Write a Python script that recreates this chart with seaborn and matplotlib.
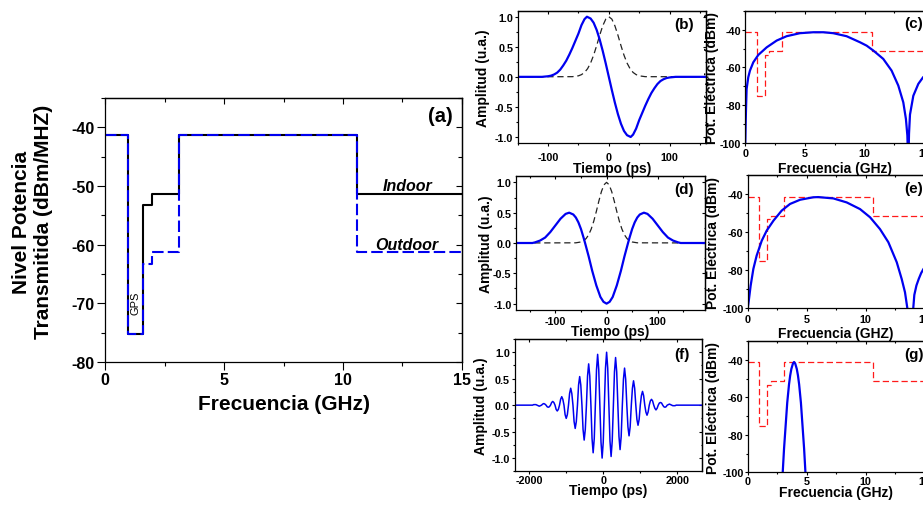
import matplotlib
matplotlib.use("Agg")
import matplotlib.pyplot as plt
import seaborn as sns
from matplotlib.ticker import MultipleLocator, FormatStrFormatter, NullFormatter

# ---------------- data ----------------
# FCC UWB emission masks: step edges (GHz) and levels (dBm/MHz)
mask_freq = [0.0, 0.96, 1.61, 1.99, 3.1, 10.6, 15.0]
indoor_level = [-41.3, -75.3, -53.3, -51.3, -41.3, -51.3, -51.3]
outdoor_level = [-41.3, -75.3, -63.3, -61.3, -41.3, -61.3, -61.3]

# Gaussian reference pulse (ps, a.u.)
gauss_t = [-200, -60, -50, -45, -40, -35, -30, -25, -20, -15, -10, -5, 0,
           5, 10, 15, 20, 25, 30, 35, 40, 45, 50, 60, 210]
gauss_amp = [0, 0.003, 0.017, 0.037, 0.073, 0.135, 0.23, 0.36, 0.52, 0.693, 0.849, 0.96, 1.0,
             0.96, 0.849, 0.693, 0.52, 0.36, 0.23, 0.135, 0.073, 0.037, 0.017, 0.003, 0]

# Gaussian monocycle (ps, a.u.)
mono_t = [-150, -110, -100, -95, -90, -85, -80, -75, -70, -65, -60, -55, -50, -45, -40, -36,
          -30, -25, -20, -15, -10, -5, 0, 5, 10, 15, 20, 25, 30, 36, 40, 45, 50, 55, 60,
          65, 70, 75, 80, 85, 90, 95, 100, 110, 160]
mono_amp = [0, 0, 0.01, 0.02, 0.04, 0.07, 0.12, 0.19, 0.27, 0.37, 0.48, 0.60, 0.72, 0.86, 0.96, 1.0,
            0.97, 0.90, 0.78, 0.62, 0.43, 0.22, 0, -0.22, -0.43, -0.62, -0.78, -0.90, -0.97, -1.0, -0.96,
            -0.86, -0.72, -0.60, -0.48, -0.37, -0.27, -0.19, -0.12, -0.07, -0.04, -0.02, -0.01, 0, 0]

# Gaussian doublet (ps, a.u.)
doub_t = [-185, -145, -140, -130, -120, -110, -100, -90, -80, -73, -65, -60, -55, -50, -45, -42,
          -35, -28, -20, -12, -6, 0, 6, 12, 20, 28, 35, 42, 45, 50, 55, 60, 65, 73, 80, 90,
          100, 110, 120, 130, 140, 145, 205]
doub_amp = [0, 0, 0.01, 0.04, 0.09, 0.18, 0.29, 0.40, 0.48, 0.50, 0.47, 0.42, 0.34, 0.23, 0.09, 0.0,
            -0.22, -0.46, -0.70, -0.89, -0.97, -1.0, -0.97, -0.89, -0.70, -0.46, -0.22, 0.0, 0.09, 0.23,
            0.34, 0.42, 0.47, 0.50, 0.48, 0.40, 0.29, 0.18, 0.09, 0.04, 0.01, 0, 0]

# Modulated Gaussian burst (ps, a.u.)
burst_t = [-2400, -1907, -1876,
           -1846, -1816, -1785, -1755,  -1725, -1695, -1664, -1634,
           -1604, -1574, -1543, -1513,  -1483, -1453, -1422, -1392,
           -1362, -1332, -1301, -1271,  -1241, -1211, -1180, -1150,
           -1120, -1090, -1059, -1029,  -999, -969, -938, -908,
           -878, -848, -817, -787,      -757, -727, -696, -666,
           -636, -606, -575, -545,      -515, -485, -454, -424,
           -394, -364, -333, -303,      -273, -243, -212, -182,
           -152, -122, -91, -61,        -31, -1, 30, 60,
           90, 120, 151, 181,           211, 241, 272, 302,
           332, 362, 393, 423,          453, 483, 514, 544,
           574, 604, 635, 665,          695, 725, 756, 786,
           816, 846, 877, 907,          937, 967, 998, 1028,
           1058, 1088, 1119, 1149,      1179, 1209, 1240, 1270,
           1300, 1330, 1361, 1391,      1421, 1451, 1482, 1512,
           1542, 1572, 1603, 1633,      1663, 1693, 1724, 1754,
           1784, 1814, 1845, 1875,
           1905, 1935, 1966, 2700]
burst_amp = [0, 0, 0.01,
             0.01, 0.01, 0, -0.01,        -0.02, -0.01, 0, 0.02,
             0.03, 0.02, 0, -0.03,        -0.04, -0.03, 0, 0.05,
             0.07, 0.05, 0, -0.08,        -0.11, -0.08, 0, 0.11,
             0.16, 0.11, 0, -0.18,        -0.25, -0.18, 0, 0.22,
             0.32, 0.22, 0, -0.31,        -0.44, -0.31, 0, 0.38,
             0.54, 0.38, 0, -0.46,        -0.66, -0.46, 0, 0.55,
             0.78, 0.55, 0, -0.63,        -0.90, -0.63, 0, 0.67,
             0.96, 0.67, 0, -0.70,        -1.00, -0.70, 0, 0.70,
             1.00, 0.70, 0, -0.68,        -0.97, -0.68, 0, 0.63,
             0.90, 0.63, 0, -0.59,        -0.84, -0.59, 0, 0.49,
             0.70, 0.49, 0, -0.41,        -0.58, -0.41, 0, 0.32,
             0.46, 0.32, 0, -0.27,        -0.38, -0.27, 0, 0.18,
             0.26, 0.18, 0, -0.13,        -0.19, -0.13, 0, 0.08,
             0.11, 0.08, 0, -0.06,        -0.09, -0.06, 0, 0.04,
             0.05, 0.04, 0, -0.03,        -0.04, -0.03, 0, 0.01,
             0.02, 0.01, 0, -0.01,
             -0.01, -0.01, 0, 0]

# Power spectra (GHz, dBm)
mono_spec_f = [0.0, 0.03, 0.06, 0.11, 0.25, 0.39, 0.67, 1.09, 1.79, 2.63, 3.46, 4.58, 5.70, 6.54,
               7.37, 8.49, 9.61, 10.17, 10.73, 11.56, 12.26, 12.82, 13.24, 13.46, 13.58, 13.66,
               13.72, 13.8, 14.08, 14.5, 14.9, 15.0]
mono_spec_db = [-100, -90, -82, -71.4, -65.2, -61.7, -57.3, -53.4, -49.4, -45.8, -43.5, -41.9, -41.4,
                -41.4, -41.9, -43.5, -46.7, -48.5, -51.1, -55.5, -61.7, -69.6, -78.5, -87.3, -96, -112,
                -95, -85, -75, -68.7, -65.2, -64.7]

doub_spec_f = [0.0, 0.11, 0.25, 0.48, 0.76, 1.19, 1.61, 2.18, 2.88, 3.59, 4.44, 5.56, 5.99, 7.26,
               8.39, 9.52, 10.37, 11.21, 11.92, 12.63, 13.05, 13.33, 13.53, 13.78, 14.03, 14.12,
               14.3, 14.5, 14.7, 14.9, 15.0]
doub_spec_db = [-100, -95.1, -88.1, -79.3, -72.3, -64.5, -59.2, -54.0, -48.7, -45.2, -43.0, -41.7,
                -41.6, -42.3, -44.4, -47.9, -52.2, -58.4, -65.3, -75.8, -84.6, -91.6, -100, -125,
                -100, -93, -88, -84.5, -81.5, -79.3, -78.5]

burst_spec_f = [2.9, 2.95, 3.08, 3.35, 3.5, 3.6, 3.7, 3.83, 3.93, 4.03, 4.16, 4.26, 4.36, 4.51,
                4.78, 4.91, 4.96]
burst_spec_db = [-110, -102, -87.4, -62.9, -53.2, -48.4, -44.9, -42.1, -41.2, -42.1, -44.9, -48.4,
                 -53.2, -62.9, -87.4, -102, -110]

# ---------------- style ----------------
sns.set_theme(style="ticks")
plt.rcParams.update({
    "font.family": ["Liberation Sans", "DejaVu Sans"],
    "font.weight": "bold",
    "axes.labelweight": "bold",
    "axes.unicode_minus": False,
    "axes.edgecolor": "black",
    "axes.labelcolor": "black",
    "text.color": "black",
    "xtick.color": "black",
    "ytick.color": "black",
    "xtick.labelcolor": "black",
    "ytick.labelcolor": "black",
    "axes.facecolor": "white",
    "figure.facecolor": "white",
})

BLUE = "#0000F0"
RED = "#FF1A1A"

W, H = 923, 506
fig = plt.figure(figsize=(W / 100, H / 100), dpi=100)


def axes_px(left, right, top, bottom):
    return fig.add_axes([left / W, 1 - bottom / H, (right - left) / W, (bottom - top) / H])


def line(ax, x, y, **kw):
    sns.lineplot(x=x, y=y, ax=ax, estimator=None, sort=False, legend=False, **kw)


def frame(ax, xlim, ylim, xmaj, xmin, ymaj, ymin, tsize, tlen, xpad, ypad, yfmt=None,
          mirror_right=True):
    ax.set_xlim(*xlim)
    ax.set_ylim(*ylim)
    ax.xaxis.set_major_locator(MultipleLocator(xmaj))
    ax.xaxis.set_minor_locator(MultipleLocator(xmin))
    ax.yaxis.set_major_locator(MultipleLocator(ymaj))
    ax.yaxis.set_minor_locator(MultipleLocator(ymin))
    if yfmt:
        ax.yaxis.set_major_formatter(FormatStrFormatter(yfmt))
    ax.tick_params(which="both", direction="out", width=0.8, colors="black",
                   labelcolor="black", labelsize=tsize, top=False, right=False)
    ax.tick_params(which="major", length=tlen)
    ax.tick_params(which="minor", length=tlen * 0.55)
    ax.tick_params(axis="x", which="both", pad=xpad)
    ax.tick_params(axis="y", which="both", pad=ypad)
    for s in ax.spines.values():
        s.set_visible(True)
        s.set_linewidth(0.9)
        s.set_color("black")
    mirrors = []
    top = ax.secondary_xaxis("top")
    mirrors.append((top, top.xaxis, xmaj, xmin))
    if mirror_right:
        right = ax.secondary_yaxis("right")
        mirrors.append((right, right.yaxis, ymaj, ymin))
    for sec, axis, maj, mnr in mirrors:
        axis.set_major_locator(MultipleLocator(maj))
        axis.set_minor_locator(MultipleLocator(mnr))
        axis.set_major_formatter(NullFormatter())
        sec.tick_params(which="both", direction="in", width=0.8, colors="black")
        sec.tick_params(which="major", length=tlen * 0.8)
        sec.tick_params(which="minor", length=tlen * 0.45)
        for s in sec.spines.values():
            s.set_linewidth(0.9)
            s.set_color("black")


def labels(ax, xl, yl, xy, yx, size, ycen=0.5):
    ax.set_xlabel(xl, fontsize=size, fontweight="bold", color="black")
    ax.set_ylabel(yl, fontsize=size, fontweight="bold", color="black")
    ax.xaxis.set_label_coords(0.5, xy)
    ax.yaxis.set_label_coords(yx, ycen)


def tag(x, y, s, size):
    fig.text(x / W, 1 - y / H, s, fontsize=size, fontweight="bold", ha="left", va="center",
             color="black")


# ---------------- (a) emission masks ----------------
ax_a = axes_px(105, 462, 99, 363)
line(ax_a, mask_freq, indoor_level, color="black", lw=1.5, drawstyle="steps-post")
line(ax_a, mask_freq, outdoor_level, color=BLUE, lw=1.5, drawstyle="steps-post",
     linestyle=(0, (5.5, 2)))
frame(ax_a, (0, 15), (-80, -35), 5, 2.5, 10, 5, 11.5, 5.8, 1.5, 1.5)
labels(ax_a, "Frecuencia (GHz)", "Nivel Potencia\nTransmitida (dBm/MHZ)", -0.12, -0.145, 15,
       ycen=0.534)
ax_a.text(1.27, -69.9, "GPS", rotation=90, fontsize=8, fontweight="normal", ha="center", va="center")
ax_a.text(12.7, -50.0, "Indoor", fontsize=11.5, fontweight="bold", fontstyle="italic",
          ha="center", va="center")
ax_a.text(12.7, -60.0, "Outdoor", fontsize=11.5, fontweight="bold", fontstyle="italic",
          ha="center", va="center")
tag(428, 116, "(a)", 14.5)

# ---------------- time-domain pulses ----------------
ax_b = axes_px(517.7, 706, 11.7, 144)
line(ax_b, gauss_t, gauss_amp, color="#222222", lw=0.9, linestyle=(0, (5, 3)))
line(ax_b, mono_t, mono_amp, color=BLUE, lw=1.6)
frame(ax_b, (-150, 160), (-1.1, 1.1), 100, 50, 0.5, 0.25, 7.8, 2.4, 3.9, 0.8, "%.1f")
labels(ax_b, "Tiempo (ps)", "Amplitud (u.a.)", -0.138, -0.147, 10)
tag(674, 25, "(b)", 11)

ax_d = axes_px(516, 705.3, 177.3, 310.7)
line(ax_d, gauss_t, gauss_amp, color="#222222", lw=0.9, linestyle=(0, (5, 3)))
line(ax_d, doub_t, doub_amp, color=BLUE, lw=1.6)
frame(ax_d, (-177, 193), (-1.1, 1.1), 100, 50, 0.5, 0.25, 7.8, 2.4, 2.0, 0.8, "%.1f")
labels(ax_d, "Tiempo (ps)", "Amplitud (u.a.)", -0.107, -0.123, 10)
tag(674, 190.5, "(d)", 11)

ax_f = axes_px(515, 702.3, 340, 472.3)
line(ax_f, burst_t, burst_amp, color=BLUE, lw=1.1)
frame(ax_f, (-2380, 2670), (-1.25, 1.25), 2000, 1000, 0.5, 0.25, 7.8, 2.4, 0.0, 1.2, "%.1f")
labels(ax_f, "Tiempo (ps)", "Amplitud (u.a.)", -0.09, -0.143, 10)
tag(674, 355, "(f)", 11)

# ---------------- spectra against the indoor mask ----------------
spectra = [
    ((745.3, 924.3, 11.7, 144), mono_spec_f, mono_spec_db, "Frecuencia (GHz)", -0.134, -0.145,
     1.4, (904, 24, "(c)")),
    ((747.7, 924.7, 176, 309.3), doub_spec_f, doub_spec_db, "Frecuencia (GHZ)", -0.131, -0.156,
     1.7, (904, 189, "(e)")),
    ((747.7, 924.7, 342, 473.3), burst_spec_f, burst_spec_db, "Frecuencia (GHz)", -0.1, -0.156,
     0.0, (904, 355, "(g)")),
]
for box, fx, fy, xl, xly, ylx, xpad, (tx, ty, ts) in spectra:
    ax = axes_px(*box)
    line(ax, mask_freq, indoor_level, color=RED, lw=0.9, drawstyle="steps-post",
         linestyle=(0, (5, 2.5)))
    line(ax, fx, fy, color=BLUE, lw=1.6)
    frame(ax, (0, 15), (-100, -30), 5, 2.5, 20, 10, 7.8, 2.4, xpad, 0.6, mirror_right=False)
    labels(ax, xl, "Pot. Eléctrica (dBm)", xly, ylx, 10)
    tag(tx, ty, ts, 11)

fig.savefig("out.png", dpi=100)
